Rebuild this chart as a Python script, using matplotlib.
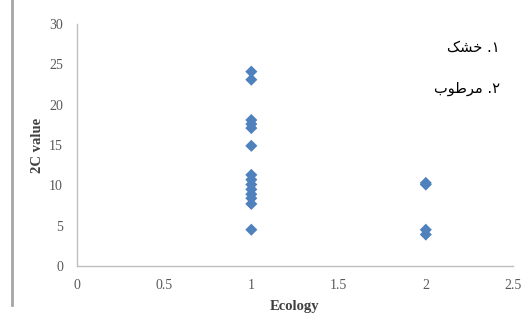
import matplotlib
matplotlib.use("Agg")
import matplotlib.pyplot as plt
from matplotlib.lines import Line2D

# data
ecology_1 = [1] * 14
value_1 = [24.1, 23.1, 18.1, 17.6, 17.1, 14.9, 11.3, 10.7, 10.1, 9.5, 8.9, 8.4, 7.7, 4.5]
ecology_2 = [2] * 4
value_2 = [10.3, 10.1, 4.5, 3.9]

x_ticks = [0, 0.5, 1, 1.5, 2, 2.5]
x_labels = ["0", "0.5", "1", "1.5", "2", "2.5"]
y_ticks = [0, 5, 10, 15, 20, 25, 30]

# legend text, already in visual (shaped, left-to-right) order
# "۱. خشک" and "۲. مرطوب"
item1 = "\uFB8F\uFEB8\uFEA7 .\u06F1"
item2 = "\uFE8F\uFEEE\uFEC3\uFEAE\uFEE3 .\u06F2"

plt.rcParams['font.family'] = ['Liberation Serif', 'DejaVu Sans']

fig = plt.figure(figsize=(5.3, 3.27), dpi=100)
ax = fig.add_axes([0.145, 0.1865, 0.823, 0.74])

ax.scatter(ecology_1 + ecology_2, value_1 + value_2, marker="D", s=38,
           color="#4F81BD", edgecolors="none", zorder=3)

ax.set_xlim(0, 2.5)
ax.set_ylim(0, 30)
ax.set_xticks(x_ticks)
ax.set_xticklabels(x_labels)
ax.set_yticks(y_ticks)
ax.tick_params(length=0, labelsize=10, labelcolor="#595959")
ax.tick_params(axis="x", pad=9)
ax.tick_params(axis="y", pad=10)

for side in ["top", "right"]:
    ax.spines[side].set_visible(False)
for side in ["left", "bottom"]:
    ax.spines[side].set_color("#BFBFBF")
    ax.spines[side].set_linewidth(1)

ax.set_xlabel("Ecology", fontsize=10.5, fontweight="bold", color="#404040", labelpad=6)
ax.set_ylabel("2C value", fontsize=10.5, fontweight="bold", color="#404040", labelpad=4)

fig.text(500 / 530, 1 - 47 / 327, item1, ha="right", va="center", fontsize=10.5,
         family=['DejaVu Sans'])
fig.text(500 / 530, 1 - 88 / 327, item2, ha="right", va="center", fontsize=10.5,
         family=['DejaVu Sans'])

# gray bar on the left edge of the picture
fig.add_artist(Line2D([12 / 530, 12 / 530], [1 - 305 / 327, 1.0],
                      transform=fig.transFigure, color="#A6A6A6", lw=2))

fig.savefig("out.png", dpi=100)
